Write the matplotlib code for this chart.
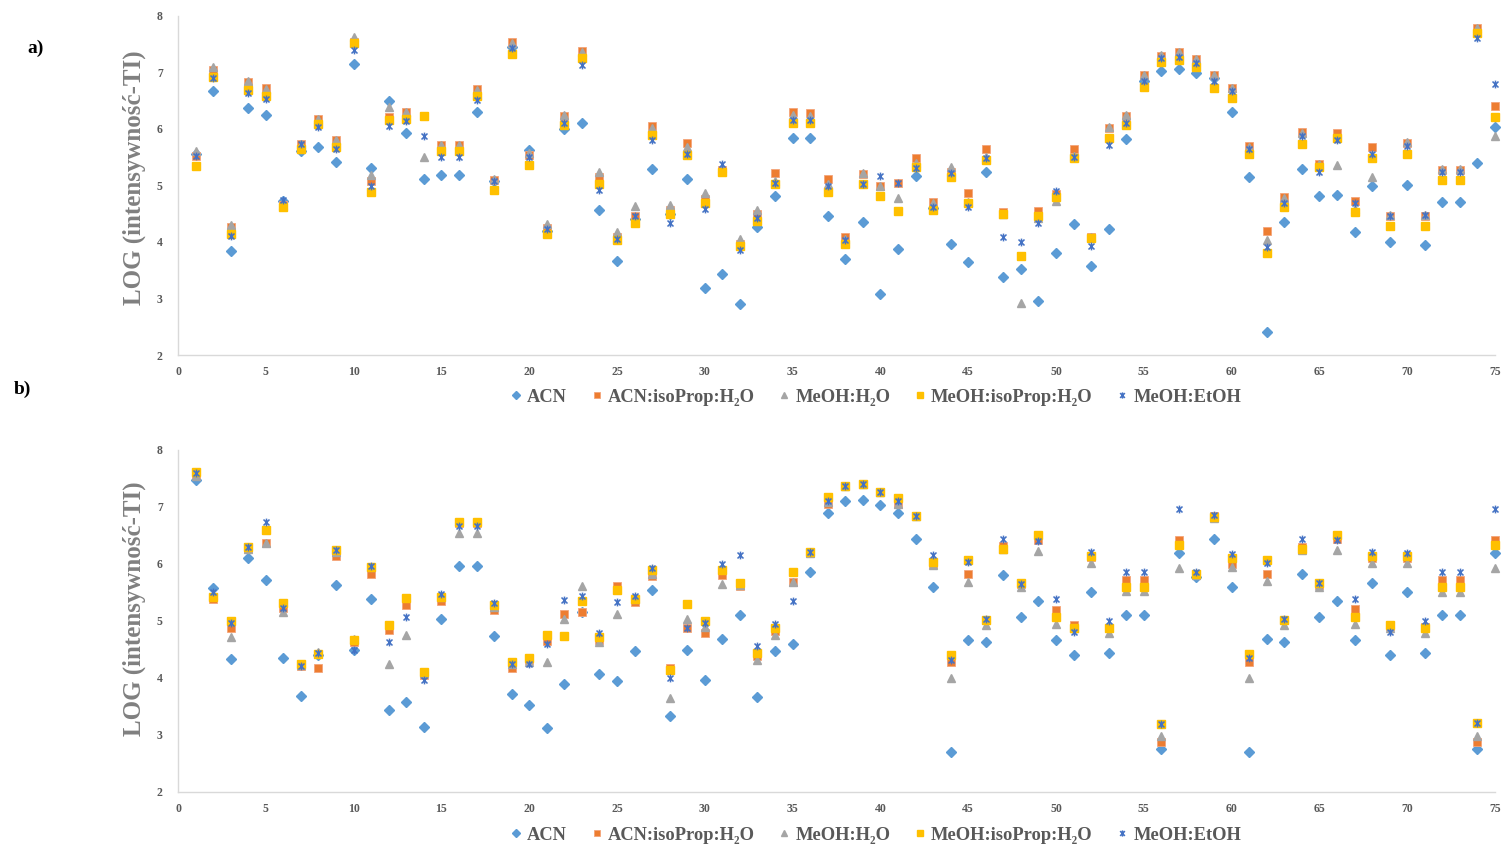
import matplotlib
matplotlib.use("Agg")
import matplotlib.pyplot as plt
from matplotlib.path import Path
from matplotlib.lines import Line2D

# ---------------- data ----------------
x = list(range(1, 76))

series_names = ["ACN", "ACN:isoProp:H\u2082O", "MeOH:H\u2082O", "MeOH:isoProp:H\u2082O", "MeOH:EtOH"]

# panel a)
a_acn = [5.55, 6.67, 3.84, 6.37, 6.24, 4.72, 5.60, 5.68, 5.42, 7.15, 5.30, 6.49, 5.93, 5.11, 5.19,
         5.19, 6.30, 5.08, 7.45, 5.62, 4.20, 5.99, 6.10, 4.57, 3.67, 4.40, 5.29, 4.50, 5.11, 3.18,
         3.43, 2.91, 4.26, 4.81, 5.83, 5.83, 4.45, 3.69, 4.36, 3.07, 3.88, 5.17, 4.60, 3.96, 3.64,
         5.23, 3.38, 3.52, 2.95, 3.80, 4.31, 3.57, 4.22, 5.82, 6.85, 7.03, 7.05, 6.98, 6.90, 6.29,
         5.14, 2.41, 4.35, 5.29, 4.81, 4.83, 4.18, 4.98, 4.00, 5.01, 3.94, 4.71, 4.71, 5.39, 6.04]
a_acn_iso = [5.52, 7.04, 4.26, 6.83, 6.73, 4.65, 5.73, 6.17, 5.80, 7.54, 5.07, 6.21, 6.30, 6.23, 5.71,
             5.71, 6.70, 5.09, 7.53, 5.54, 4.24, 6.23, 7.37, 5.15, 4.09, 4.46, 6.05, 4.56, 5.75, 4.75,
             5.28, 3.97, 4.49, 5.21, 6.30, 6.28, 5.12, 4.09, 5.20, 4.98, 5.05, 5.49, 4.71, 5.24, 4.86,
             5.64, 4.52, 3.75, 4.55, 4.84, 5.64, 4.09, 6.01, 6.23, 6.95, 7.29, 7.35, 7.23, 6.95, 6.73,
             5.69, 4.19, 4.80, 5.95, 5.38, 5.92, 4.72, 5.67, 4.46, 5.75, 4.46, 5.28, 5.28, 7.78, 6.41]
a_meoh_h2o = [5.60, 7.09, 4.30, 6.85, 6.70, 4.65, 5.74, 6.18, 5.81, 7.63, 5.18, 6.39, 6.30, 5.51, 5.71,
              5.71, 6.69, 5.12, 7.51, 5.58, 4.32, 6.24, 7.36, 5.23, 4.18, 4.64, 6.01, 4.65, 5.68, 4.86,
              5.30, 4.06, 4.56, 5.08, 6.24, 6.23, 5.03, 4.06, 5.21, 4.98, 4.78, 5.40, 4.68, 5.33, 4.71,
              5.51, 4.49, 2.92, 4.42, 4.73, 5.52, 4.09, 6.04, 6.24, 6.96, 7.30, 7.36, 7.23, 6.95, 6.72,
              5.68, 4.03, 4.77, 5.92, 5.37, 5.36, 4.59, 5.14, 4.47, 5.77, 4.47, 5.29, 5.29, 7.78, 5.87]
a_meoh_iso = [5.34, 6.92, 4.14, 6.69, 6.58, 4.62, 5.65, 6.08, 5.68, 7.51, 4.89, 6.15, 6.17, 6.22, 5.60,
              5.60, 6.58, 4.91, 7.33, 5.36, 4.14, 6.07, 7.25, 5.03, 4.03, 4.33, 5.89, 4.50, 5.54, 4.69,
              5.24, 3.93, 4.37, 5.02, 6.11, 6.10, 4.89, 3.97, 5.03, 4.81, 4.55, 5.33, 4.57, 5.15, 4.69,
              5.45, 4.49, 3.75, 4.45, 4.80, 5.49, 4.07, 5.84, 6.07, 6.74, 7.19, 7.22, 7.10, 6.73, 6.54,
              5.55, 3.80, 4.62, 5.74, 5.33, 5.83, 4.52, 5.48, 4.29, 5.55, 4.28, 5.09, 5.09, 7.70, 6.20]
a_meoh_etoh = [5.52, 6.89, 4.10, 6.63, 6.52, 4.74, 5.74, 6.04, 5.64, 7.39, 4.98, 6.05, 6.13, 5.87, 5.51,
               5.51, 6.51, 5.08, 7.42, 5.51, 4.22, 6.10, 7.13, 4.92, 4.06, 4.45, 5.81, 4.34, 5.55, 4.58,
               5.37, 3.86, 4.42, 5.05, 6.15, 6.15, 4.98, 4.03, 5.02, 5.16, 5.04, 5.30, 4.62, 5.22, 4.62,
               5.48, 4.09, 3.99, 4.34, 4.90, 5.51, 3.93, 5.71, 6.10, 6.84, 7.26, 7.27, 7.17, 6.84, 6.67,
               5.64, 3.91, 4.69, 5.87, 5.24, 5.80, 4.69, 5.55, 4.46, 5.69, 4.47, 5.24, 5.24, 7.60, 6.80]

# panel b)
b_acn = [7.48, 5.58, 4.33, 6.11, 5.72, 4.34, 3.68, 4.40, 5.63, 4.48, 5.39, 3.43, 3.57, 3.14, 5.04,
         5.96, 5.96, 4.73, 3.72, 3.52, 3.11, 3.89, 5.15, 4.06, 3.95, 4.47, 5.54, 3.33, 4.49, 3.97,
         4.68, 5.11, 3.66, 4.47, 4.59, 5.86, 6.90, 7.11, 7.13, 7.04, 6.89, 6.44, 5.59, 2.69, 4.66,
         4.62, 5.81, 5.07, 5.34, 4.66, 4.40, 5.50, 4.43, 5.11, 5.11, 2.75, 6.19, 5.77, 6.44, 5.60,
         2.69, 4.68, 4.62, 5.82, 5.07, 5.34, 4.66, 5.66, 4.40, 5.50, 4.43, 5.11, 5.11, 2.75, 6.19]
b_acn_iso = [7.58, 5.38, 4.87, 6.27, 6.36, 5.22, 4.20, 4.17, 6.13, 4.63, 5.83, 4.84, 5.28, 4.05, 5.34,
             6.72, 6.72, 5.19, 4.17, 4.32, 4.65, 5.12, 5.16, 4.66, 5.61, 5.33, 5.79, 4.17, 4.87, 4.79,
             5.81, 5.61, 4.38, 4.83, 5.69, 6.20, 7.06, 7.36, 7.41, 7.27, 7.05, 6.84, 6.00, 4.28, 5.83,
             5.02, 6.31, 5.64, 6.42, 5.19, 4.93, 6.12, 4.87, 5.71, 5.71, 2.88, 6.42, 5.82, 6.84, 5.99,
             4.28, 5.83, 5.02, 6.30, 5.63, 6.43, 5.20, 6.10, 4.91, 6.10, 4.90, 5.71, 5.71, 2.88, 6.42]
b_meoh_h2o = [7.54, 5.45, 4.71, 6.27, 6.36, 5.16, 4.23, 4.46, 6.21, 4.68, 5.94, 4.24, 4.75, 4.08, 5.42,
              6.54, 6.54, 5.25, 4.24, 4.28, 4.27, 5.04, 5.61, 4.62, 5.12, 5.38, 5.83, 3.64, 5.03, 4.90,
              5.64, 5.63, 4.31, 4.75, 5.69, 6.20, 7.08, 7.36, 7.41, 7.27, 7.06, 6.84, 5.98, 4.00, 5.69,
              4.93, 6.27, 5.60, 6.23, 4.94, 4.87, 6.01, 4.78, 5.53, 5.53, 2.98, 5.93, 5.80, 6.80, 5.95,
              4.00, 5.70, 4.93, 6.24, 5.60, 6.24, 4.94, 6.01, 4.87, 6.01, 4.78, 5.51, 5.51, 2.98, 5.93]
b_meoh_iso = [7.61, 5.42, 4.99, 6.29, 6.60, 5.32, 4.25, 4.42, 6.24, 4.66, 5.95, 4.93, 5.40, 4.11, 5.42,
              6.74, 6.74, 5.28, 4.28, 4.34, 4.75, 4.73, 5.34, 4.72, 5.55, 5.38, 5.89, 4.14, 5.29, 4.99,
              5.89, 5.66, 4.43, 4.88, 5.85, 6.21, 7.18, 7.37, 7.41, 7.27, 7.15, 6.84, 6.04, 4.40, 6.07,
              5.02, 6.26, 5.67, 6.51, 5.07, 4.87, 6.13, 4.87, 5.59, 5.59, 3.19, 6.33, 5.83, 6.82, 6.10,
              4.41, 6.06, 5.02, 6.27, 5.67, 6.51, 5.07, 6.13, 4.93, 6.13, 4.88, 5.60, 5.60, 3.20, 6.34]
b_meoh_etoh = [7.59, 5.51, 4.97, 6.30, 6.74, 5.22, 4.21, 4.43, 6.24, 4.49, 5.96, 4.63, 5.07, 3.97, 5.47,
               6.67, 6.67, 5.31, 4.25, 4.24, 4.59, 5.37, 5.44, 4.78, 5.33, 5.44, 5.92, 3.99, 4.87, 4.96,
               6.00, 6.16, 4.56, 4.94, 5.34, 6.21, 7.10, 7.36, 7.41, 7.27, 7.10, 6.84, 6.16, 4.31, 6.04,
               5.04, 6.43, 5.65, 6.41, 5.38, 4.81, 6.21, 4.99, 5.86, 5.86, 3.19, 6.96, 5.86, 6.86, 6.17,
               4.34, 6.02, 5.04, 6.43, 5.67, 6.42, 5.38, 6.21, 4.81, 6.20, 4.99, 5.85, 5.85, 3.20, 6.96]

x_ticks = list(range(0, 76, 5))
y_ticks = [2, 3, 4, 5, 6, 7, 8]
y_label = "LOG (intensywność-TI)"

# ---------------- styling ----------------
SERIF = ["Liberation Serif", "DejaVu Serif"]
TICK_COLOR = "#595959"
AXIS_COLOR = "#d9d9d9"

# asterisk-like marker: an x with a vertical stroke
star = Path([(-1, -1), (1, 1), (-1, 1), (1, -1), (0, -1.3), (0, 1.3)],
            [Path.MOVETO, Path.LINETO, Path.MOVETO, Path.LINETO, Path.MOVETO, Path.LINETO])

styles = [
    dict(marker="D", color="#5B9BD5", ms=4.6, mec="#5B9BD5"),
    dict(marker="s", color="#ED7D31", ms=5.8, mec="#F4A57A", mew=0.6),
    dict(marker="^", color="#A5A5A5", ms=6.0, mec="#A5A5A5"),
    dict(marker="s", color="#FFC000", ms=5.4, mec="#FFC000"),
    dict(marker=star, color="#4472C4", ms=5.6, mfc="none", mec="#4472C4", mew=1.1),
]

fig = plt.figure(figsize=(15.06, 8.48), dpi=100)
W, H = 1506.0, 848.0
LEFT, RIGHT = 178.0, 1495.0


def draw_panel(top_px, bottom_px, data, label_center_px):
    rect = [LEFT / W, 1 - bottom_px / H, (RIGHT - LEFT) / W, (bottom_px - top_px) / H]
    ax = fig.add_axes(rect)
    for vals, st in zip(data, styles):
        st = dict(st)
        ax.plot(x, vals, linestyle="none", marker=st.pop("marker"), clip_on=False, **st)
    ax.set_xlim(0, 75)
    ax.set_ylim(2, 8)
    ax.set_xticks(x_ticks)
    ax.set_yticks(y_ticks)
    for side in ("top", "right"):
        ax.spines[side].set_visible(False)
    for side in ("left", "bottom"):
        ax.spines[side].set_color(AXIS_COLOR)
        ax.spines[side].set_linewidth(1.0)
    ax.tick_params(axis="x", length=0, pad=8, labelcolor=TICK_COLOR)
    ax.tick_params(axis="y", length=0, pad=11, labelcolor=TICK_COLOR)
    for lab in ax.get_xticklabels() + ax.get_yticklabels():
        lab.set_fontfamily(SERIF)
        lab.set_fontweight("bold")
        lab.set_fontsize(8.5)
    ax.set_ylabel(y_label, fontfamily=SERIF, fontweight="bold", fontsize=18, color="#808080")
    ax.yaxis.set_label_coords((146 - LEFT) / (RIGHT - LEFT),
                              (bottom_px - label_center_px) / (bottom_px - top_px))
    return ax


axA = draw_panel(15.7, 355.0, [a_acn, a_acn_iso, a_meoh_h2o, a_meoh_iso, a_meoh_etoh], 178)
axB = draw_panel(450.0, 791.7, [b_acn, b_acn_iso, b_meoh_h2o, b_meoh_iso, b_meoh_etoh], 609)

fig.text(36 / W, 1 - 48 / H, "a)", fontfamily=SERIF, fontweight="bold", fontsize=14,
         ha="center", va="center", color="black")
fig.text(22 / W, 1 - 389 / H, "b)", fontfamily=SERIF, fontweight="bold", fontsize=14,
         ha="center", va="center", color="black")

handles = []
for name, st in zip(series_names, styles):
    st = dict(st)
    mk = st.pop("marker")
    st["ms"] = st["ms"] * 0.8
    handles.append(Line2D([], [], linestyle="none", marker=mk, label=name, **st))

for yc in (397, 835):
    fig.legend(handles=handles, loc="center", bbox_to_anchor=(874 / W, 1 - yc / H), ncol=5,
               frameon=False, handletextpad=0.1, columnspacing=1.1, handlelength=1.0,
               prop=dict(family=SERIF, weight="bold", size=13.3), labelcolor=TICK_COLOR)

fig.savefig("out.png", dpi=100, facecolor="white")
